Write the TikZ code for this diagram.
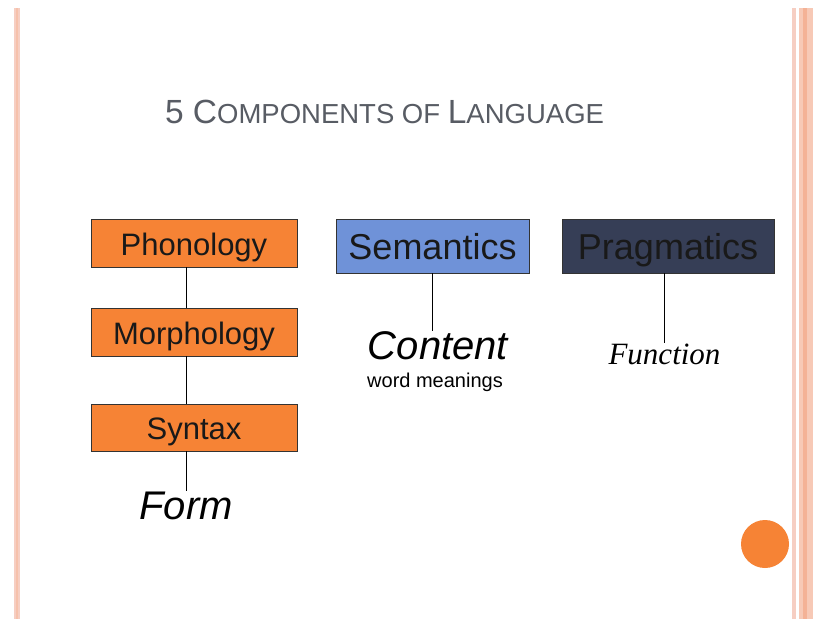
\documentclass[tikz,border=0pt]{standalone}
\usepackage{fontspec}
\setmainfont{Liberation Sans}
\newfontfamily\timesit{Liberation Serif}
\usepackage{tikz}
\usetikzlibrary{calc,positioning}
\definecolor{lgorange}{RGB}{246,131,53}
\definecolor{lgblue}{RGB}{111,146,216}
\definecolor{lgnavy}{RGB}{54,62,86}
\definecolor{lggray}{RGB}{88,92,100}
\definecolor{lgpink}{RGB}{246,206,194}
\definecolor{lgsalmon}{RGB}{244,178,150}

\begin{document}
\begin{tikzpicture}[x=1pt,y=-1pt,
    compbox/.style={draw=black!80,line width=.8pt,inner sep=0pt,text=black!90,text height=24pt,text depth=0pt},
    lbl/.style={inner sep=0pt,anchor=base}]
    \useasboundingbox (0,0) rectangle (813,619);
    \fill[white] (0,0) rectangle (813,619);
    \fill[lgpink] (13.5,8) rectangle (20,619);
    \fill[lgsalmon!80] (15.5,8) rectangle (18,619);
    \fill[lgpink] (792,8) rectangle (795.5,619);
    \fill[lgsalmon!70] (799,8) rectangle (813,619);
    \fill[lgsalmon] (803,8) rectangle (806.5,619);
    \node[lbl,text=lggray] (ttl) at (384.5,123.5)
      {\fontsize{33.5}{40}\selectfont 5 C\fontsize{27.5}{32}\selectfont OMPONENTS OF \fontsize{33.5}{40}\selectfont L\fontsize{27.5}{32}\selectfont ANGUAGE};
    \node[compbox,fill=lgorange,minimum width=206,minimum height=48,font=\fontsize{31}{36}\selectfont] (pho) at (194,243) {Phonology};
    \node[compbox,fill=lgorange,minimum width=206,minimum height=48,font=\fontsize{31}{36}\selectfont] (mor) at (194,332) {Morphology};
    \node[compbox,fill=lgorange,minimum width=206,minimum height=47,font=\fontsize{31}{36}\selectfont] (syn) at (194,427.5) {Syntax};
    \node[compbox,text height=26pt,fill=lgblue,minimum width=193,minimum height=54,font=\fontsize{36}{42}\selectfont] (sem) at (432.5,246) {Semantics};
    \node[compbox,text height=26pt,fill=lgnavy,minimum width=212,minimum height=54,font=\fontsize{36}{42}\selectfont] (pra) at (668,246) {Pragmatics};
    \node[lbl,font=\fontsize{40}{48}\selectfont\itshape] (frm) at (186,519) {Form};
    \node[lbl,font=\fontsize{40}{48}\selectfont\itshape] (cnt) at (438,359) {Content};
    \node[lbl,font=\fontsize{20}{24}\selectfont] (wrd) at (435,387) {word meanings};
    \node[lbl,font=\fontsize{31}{37}\timesit\itshape] (fun) at (664.5,364) {Function};
    \draw[line width=.8pt] (pho.south -| frm) -- (mor.north -| frm);
    \draw[line width=.8pt] (mor.south -| frm) -- (syn.north -| frm);
    \draw[line width=.8pt] (syn.south -| frm) -- (frm.north);
    \draw[line width=.8pt] (sem.south) -- (sem.south |- cnt.north);
    \draw[line width=.8pt] (pra.south -| fun) -- (fun.north);
    \fill[lgorange] (765,544) circle (24);
  \end{tikzpicture}
\end{document}
